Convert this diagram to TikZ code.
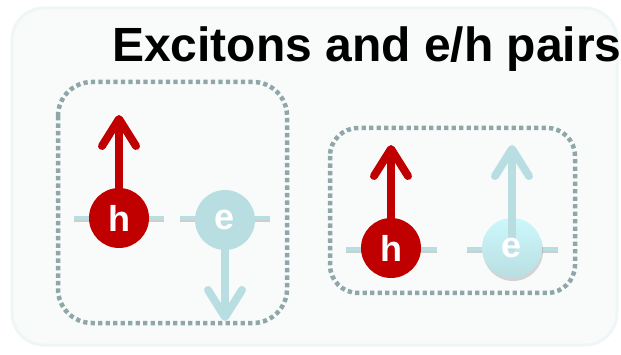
\documentclass[tikz,border=0pt]{standalone}
\usepackage{fontspec}
\setmainfont{Liberation Sans}
\usetikzlibrary{arrows.meta,shadows}
\definecolor{PairRed}{HTML}{C00000}
\definecolor{PairCyan}{HTML}{B9DEE2}
\definecolor{PairCyanTop}{HTML}{CCF8FB}
\definecolor{PairDot}{HTML}{8FA7A9}
\definecolor{PairPanel}{HTML}{F9FBFB}
\definecolor{PairRim}{HTML}{EFF6F7}
\definecolor{PairShade}{gray}{0.55}
\tikzset{
    pair/diagram/.style={
        x=1pt, y=-1pt,
        line cap=round,
        line join=round
    },
    pair/panel/.style={fill=PairPanel, draw=PairRim, line width=3pt, rounded corners=32pt},
    pair/title/.style={
        font=\bfseries\fontsize{48}{48}\selectfont,
        anchor=base west, inner sep=0pt
    },
    pair/group/.style={
        draw=PairDot, line width=4.5pt, line cap=butt,
        dash pattern=on 4.3pt off 3.2pt
    },
    pair/level/.style={draw=PairCyan, line width=4pt, line cap=butt},
    pair/levelshadow/.style={draw=PairShade, line width=4pt, line cap=butt, opacity=0.4},
    pair/carrier/.style={
        circle, minimum size=60pt, inner sep=0pt, text=white,
        font=\bfseries\fontsize{36}{36}\selectfont
    },
    pair/hole/.style={pair/carrier, fill=PairRed},
    pair/electron/.style={pair/carrier, fill=PairCyan},
    pair/glow/.style={
        pair/carrier, top color=PairCyanTop, bottom color=PairCyan,
        drop shadow={shadow xshift=1pt, shadow yshift=-3pt, fill=PairShade, opacity=0.35}
    },
    pair/spin/.style={
        line width=8pt,
        -{Straight Barb[length=27pt, width=34pt, round]}
    }
}
\begin{document}
\begin{tikzpicture}[pair/diagram]
    \useasboundingbox (0,0) rectangle (621,355);
    \draw[pair/panel] (12,8) rectangle (617,345);
    \node[pair/title] (title) at (112,62) {Excitons and e/h pairs};
    \draw[pair/group, rounded corners=34pt] (58,82) rectangle (287,323);
    \draw[pair/group, rounded corners=28pt] (330,128) rectangle (575,293);
    \foreach \xa/\xb/\yy in {74/164/218, 180/270/218, 346/437/249, 467/558/249} {
        \draw[pair/levelshadow] (\xa,\yy+2) -- (\xb,\yy+2);
        \draw[pair/level] (\xa,\yy) -- (\xb,\yy);
    }
    \node[pair/hole] (h1) at (119,218) {h};
    \node[pair/electron] (e1) at (225,220) {e};
    \coordinate (h1tip) at (119,115);
    \coordinate (e1tip) at (225,321);
    \draw[pair/spin, PairRed] (h1.north) -- (h1tip);
    \draw[pair/spin, PairCyan] (e1.south) -- (e1tip);
    \node[pair/hole] (h2) at (391,248) {h};
    \node[pair/glow] (e2) at (512,248) {};
    \coordinate (h2tip) at (391,145);
    \coordinate (e2tip) at (512,145);
    \draw[pair/spin, PairRed] (h2.north) -- (h2tip);
    \draw[pair/spin, PairCyan] (e2.center) -- (e2tip);
    \node[pair/carrier] (e2label) at (e2.center) {e};
\end{tikzpicture}
\end{document}
